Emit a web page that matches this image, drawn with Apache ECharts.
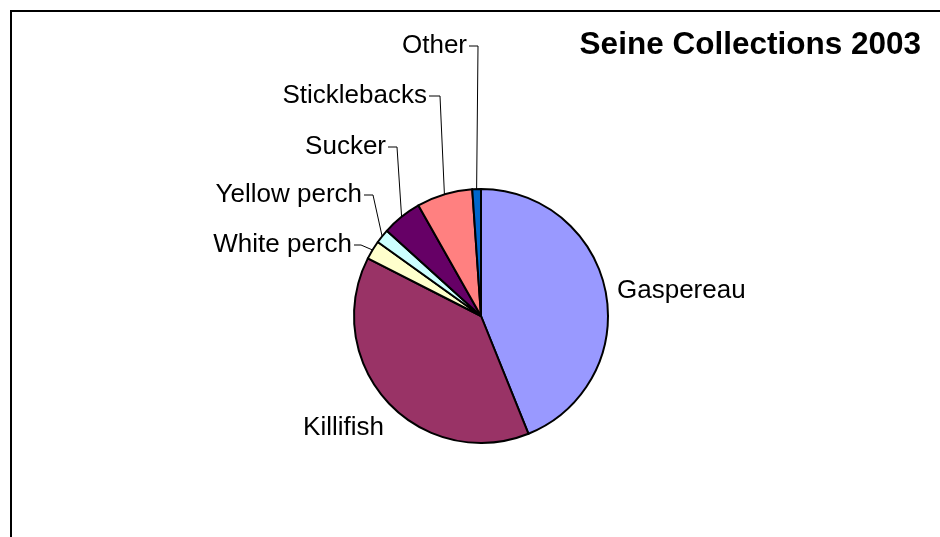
<!DOCTYPE html>
<html>
<head>
<meta charset="utf-8">
<script src="https://cdn.jsdelivr.net/npm/echarts@6/dist/echarts.min.js"></script>
<style>
html,body{margin:0;padding:0;background:#fff;}
#chart{width:940px;height:537px;}
</style>
</head>
<body>
<div id="chart"></div>
<script>
// ---- data ----
const categories = ['Gaspereau', 'Killifish', 'White perch', 'Yellow perch', 'Sucker', 'Sticklebacks', 'Other'];
const shares = [43.9, 38.6, 2.4, 1.8, 5.1, 7.1, 1.1];
const titleText = 'Seine Collections 2003';

// ---- style / layout ----
const colors = ['#9999FF', '#993366', '#FFFFCC', '#CCFFFF', '#660066', '#FF8080', '#0066CC'];
// label anchor: x (text edge), y (text middle), align, bendX (leader bend) or null for no leader
const labelSpots = [
  { x: 617, y: 291, align: 'left', bend: null },
  { x: 384, y: 428, align: 'right', bend: null },
  { x: 352, y: 245, align: 'right', bend: 361 },
  { x: 362, y: 195, align: 'right', bend: 373 },
  { x: 386, y: 147, align: 'right', bend: 397 },
  { x: 427, y: 96, align: 'right', bend: 440 },
  { x: 467, y: 46, align: 'right', bend: 478 }
];
const FONT = "'Liberation Sans', Arial, sans-serif";

const chart = echarts.init(document.getElementById('chart'), null, { renderer: 'canvas' });

const data = categories.map((name, i) => ({
  name: name,
  value: shares[i],
  itemStyle: { color: colors[i] },
  labelLine: { show: labelSpots[i].bend !== null }
}));

chart.setOption({
  animation: false,
  backgroundColor: '#ffffff',
  graphic: [{
    type: 'rect',
    shape: { x: 11, y: 11, width: 1200, height: 1000 },
    style: { fill: '#ffffff', stroke: '#000000', lineWidth: 2 },
    z: -10, silent: true
  }],
  title: {
    text: titleText,
    right: 19,
    top: 29,
    padding: 0,
    textStyle: { fontFamily: FONT, fontSize: 31.5, fontWeight: 'bold', color: '#000' }
  },
  series: [{
    type: 'pie',
    center: [481, 316],
    radius: [0, 127],
    startAngle: 90,
    clockwise: true,
    avoidLabelOverlap: false,
    data: data,
    itemStyle: { borderColor: '#000', borderWidth: 2 },
    label: {
      show: true,
      position: 'outside',
      formatter: '{b}',
      fontFamily: FONT,
      fontSize: 26,
      color: '#000'
    },
    labelLine: {
      show: true,
      length: 10,
      length2: 10,
      lineStyle: { color: '#000', width: 1 }
    },
    labelLayout: function (params) {
      const s = labelSpots[params.dataIndex];
      const out = { x: s.x, y: s.y, align: s.align, verticalAlign: 'middle' };
      if (s.bend !== null && params.labelLinePoints) {
        const edge = params.labelLinePoints[0];
        out.labelLinePoints = [
          [edge[0], edge[1]],
          [s.bend, s.y],
          [s.x + 2, s.y]
        ];
      }
      return out;
    }
  }]
});
</script>
</body>
</html>
